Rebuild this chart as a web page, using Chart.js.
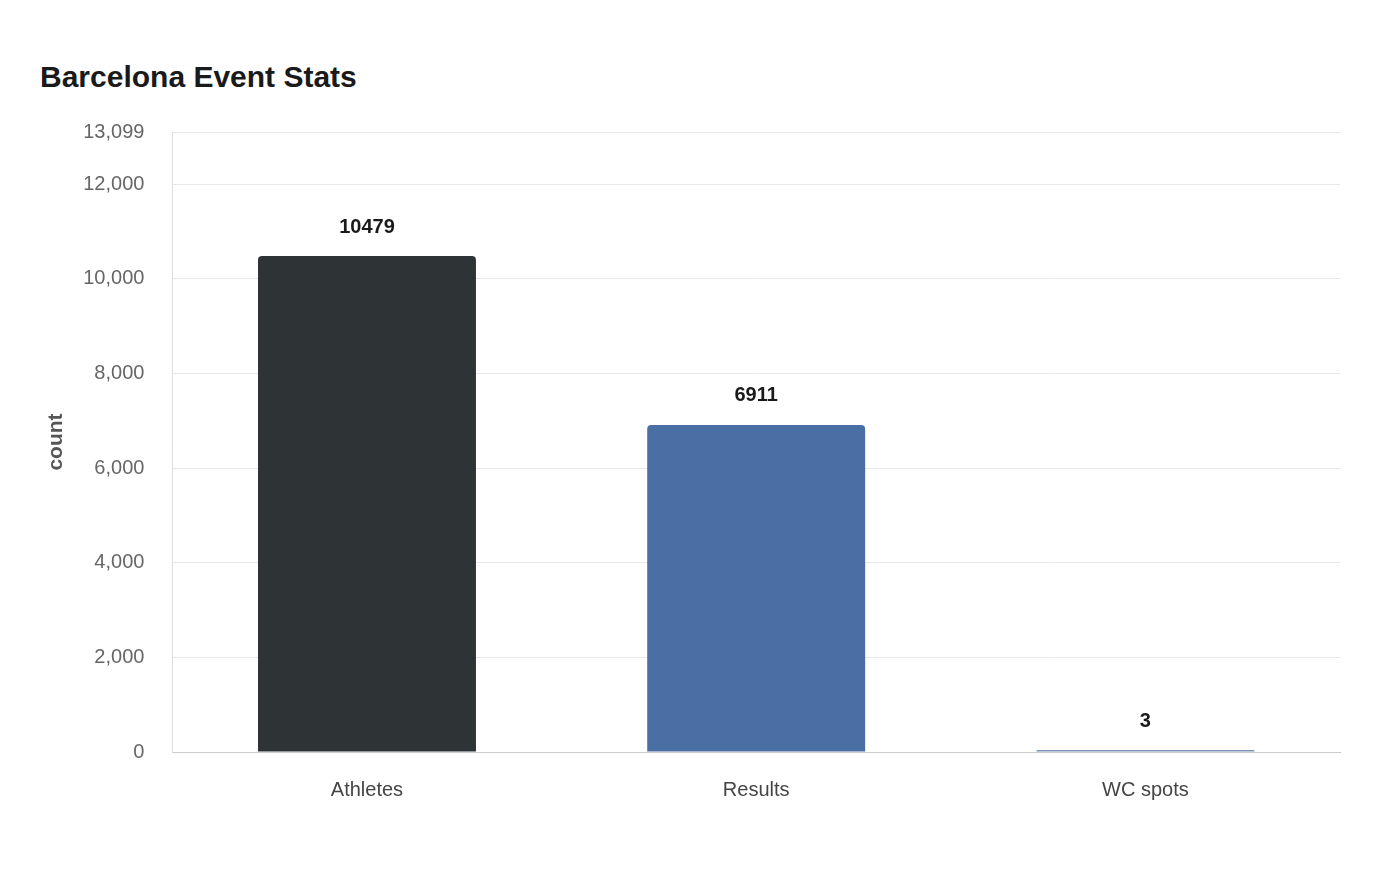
<!DOCTYPE html>
<html>
<head>
<meta charset="utf-8">
<script src="https://cdn.jsdelivr.net/npm/chart.js@4"></script>
<style>
  html, body { margin: 0; padding: 0; background: #fff; }
  #wrap { position: relative; width: 1400px; height: 880px; }
  h1 { position: absolute; left: 40px; top: 60px; margin: 0; font: bold 30px "Liberation Sans", Arial, sans-serif; color: #1a1a1a; }
  #box { position: absolute; left: 40px; top: 120px; width: 1310px; height: 700px; }
</style>
</head>
<body>
<div id="wrap">
  <h1>Barcelona Event Stats</h1>
  <div id="box"><canvas id="chart"></canvas></div>
</div>
<script>
// ─── DATA ───
const categories = ['Athletes', 'Results', 'WC spots'];
const counts = [10479, 6911, 3];
const barColors = ['#2e3436', '#4a6fa5', '#7b93b5'];
const yMax = 13099;
const yTicks = [0, 2000, 4000, 6000, 8000, 10000, 12000, 13099];

const valueLabels = {
  id: 'valueLabels',
  afterDatasetsDraw(chart) {
    const { ctx } = chart;
    const meta = chart.getDatasetMeta(0);
    ctx.save();
    ctx.font = 'bold 20px "Liberation Sans", Arial, sans-serif';
    ctx.fillStyle = '#1a1a1a';
    ctx.textAlign = 'center';
    ctx.textBaseline = 'bottom';
    meta.data.forEach((bar, i) => {
      ctx.fillText(String(counts[i]), bar.x, bar.y - 19);
    });
    ctx.restore();
  }
};

new Chart(document.getElementById('chart'), {
  type: 'bar',
  data: {
    labels: categories,
    datasets: [{
      data: counts,
      backgroundColor: barColors,
      borderRadius: { topLeft: 4, topRight: 4 },
      borderSkipped: 'bottom',
      barPercentage: 0.56,
      categoryPercentage: 1,
      minBarLength: 2
    }]
  },
  options: {
    responsive: true,
    maintainAspectRatio: false,
    animation: false,
    layout: { padding: { top: 0, right: 10, bottom: 0 } },
    plugins: { legend: { display: false }, tooltip: { enabled: false } },
    scales: {
      x: {
        grid: { display: false },
        border: { color: '#cccccc' },
        ticks: { color: '#444', font: { size: 20, family: '"Liberation Sans", Arial, sans-serif' }, padding: 18 }
      },
      y: {
        min: 0, max: yMax,
        afterBuildTicks: axis => { axis.ticks = yTicks.map(v => ({ value: v })); },
        grid: { color: '#e8e8e8', drawTicks: true, tickLength: 28, tickColor: '#fff' },
        border: { color: '#dddddd' },
        ticks: { color: '#666', padding: 0, font: { size: 20, family: '"Liberation Sans", Arial, sans-serif' },
          callback: v => v.toLocaleString('en-US') },
        title: { display: true, text: 'count', color: '#555', font: { size: 21, weight: 'bold', family: '"Liberation Sans", Arial, sans-serif' }, padding: { bottom: 14 } }
      }
    }
  },
  plugins: [valueLabels]
});
</script>
</body>
</html>
